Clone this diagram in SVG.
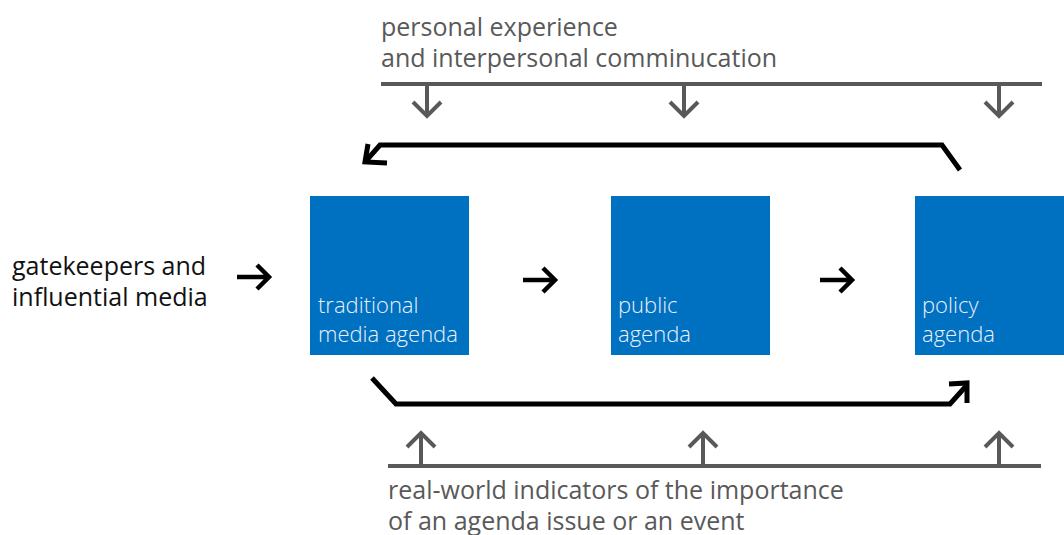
<svg xmlns="http://www.w3.org/2000/svg" width="1064" height="535" viewBox="0 0 1064 535">
  <style>
    .lbl { font-family: "Open Sans", "Noto Sans", sans-serif; font-size: 25px; }
    .gray { fill: #595959; }
    .dark { fill: #111111; }
    .box { fill: #0070C0; }
    .boxtxt { font-family: "Open Sans", "Noto Sans", sans-serif; font-size: 22px; fill: #eaf1fa; font-weight: 300; }
    .gline { stroke: #595959; stroke-width: 4; fill: none; }
    .bline { stroke: #000000; stroke-width: 5; fill: none; stroke-linejoin: miter; }
    .chev { stroke: #000000; stroke-width: 4.5; fill: none; stroke-linejoin: miter; }
  </style>
  <rect width="1064" height="535" fill="#ffffff"/>

  <!-- influence from personal experience (top) -->
  <g id="personal-experience">
    <text class="lbl gray" x="381" y="36">personal experience</text>
    <text class="lbl gray" x="381" y="67">and interpersonal comminucation</text>
    <line class="gline" x1="381" y1="84" x2="1042" y2="84"/>
    <path class="gline" d="M427 84 V116 M413 102 L427 116 L441 102"/>
    <path class="gline" d="M684 84 V116 M670 102 L684 116 L698 102"/>
    <path class="gline" d="M999 84 V116 M985 102 L999 116 L1013 102"/>
  </g>

  <!-- real-world indicators (bottom) -->
  <g id="real-world-indicators">
    <line class="gline" x1="388" y1="466" x2="1041" y2="466"/>
    <path class="gline" d="M421 466 V433 M407 447 L421 433 L435 447"/>
    <path class="gline" d="M703 466 V433 M689 447 L703 433 L717 447"/>
    <path class="gline" d="M999 466 V433 M985 447 L999 433 L1013 447"/>
    <text class="lbl gray" x="388" y="499">real-world indicators of the importance</text>
    <text class="lbl gray" x="388" y="530">of an agenda issue or an event</text>
  </g>

  <!-- source label -->
  <g id="gatekeepers">
    <text class="lbl dark" x="12" y="275">gatekeepers and</text>
    <text class="lbl dark" x="12" y="306">influential media</text>
  </g>

  <!-- agenda boxes -->
  <g id="media-agenda">
    <rect class="box" x="310" y="196" width="159" height="159"/>
    <text class="boxtxt" x="318" y="313">traditional</text>
    <text class="boxtxt" x="318" y="342">media agenda</text>
  </g>
  <g id="public-agenda">
    <rect class="box" x="611" y="196" width="159" height="159"/>
    <text class="boxtxt" x="618" y="313">public</text>
    <text class="boxtxt" x="618" y="342">agenda</text>
  </g>
  <g id="policy-agenda">
    <rect class="box" x="915" y="196" width="159" height="159"/>
    <text class="boxtxt" x="922" y="313">policy</text>
    <text class="boxtxt" x="922" y="342">agenda</text>
  </g>

  <!-- connectors -->
  <g id="connectors">
    <!-- straight flow arrows -->
    <path class="chev" d="M237 277 H268 M257 265 L269 277 L257 289"/>
    <path class="chev" d="M523 280 H554 M543 268 L555 280 L543 292"/>
    <path class="chev" d="M820 280 H851 M840 268 L852 280 L840 292"/>
    <!-- feedback from policy agenda back to media agenda -->
    <path class="bline" d="M960 170 L942 145 H380 L365 162"/>
    <path class="bline" d="M368 144 L365 162 L387 163"/>
    <!-- media agenda directly to policy agenda -->
    <path class="bline" d="M372 378 L396 404 H950 L967 385"/>
    <path class="bline" d="M949 384 L967 383 L967 403"/>
  </g>
</svg>
